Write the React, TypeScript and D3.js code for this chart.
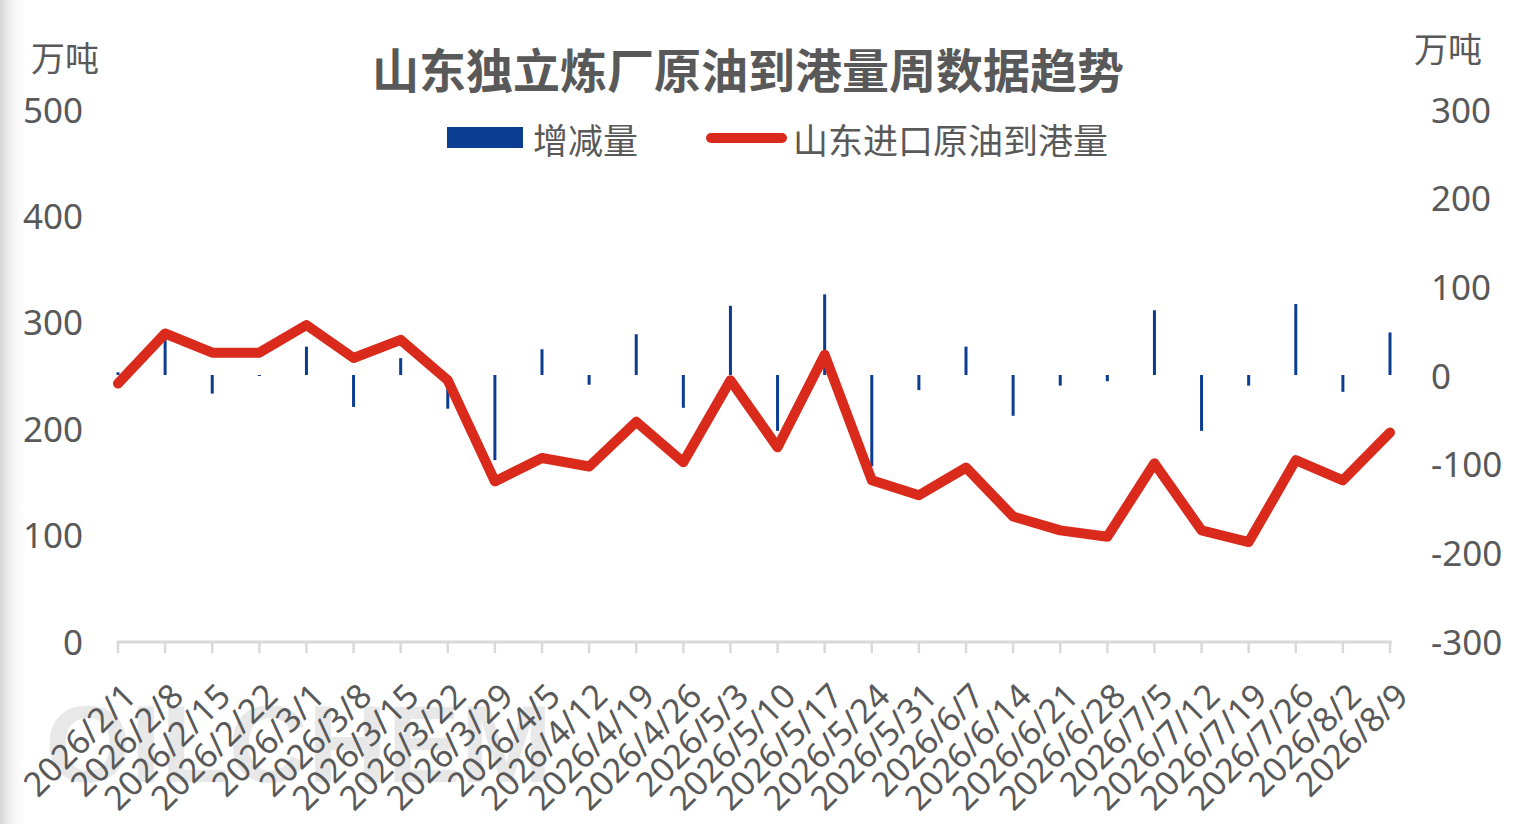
import React from "react";
import * as d3 from "d3";

const categories = [
  "2026/2/1", "2026/2/8", "2026/2/15", "2026/2/22", "2026/3/1", "2026/3/8", "2026/3/15",
  "2026/3/22", "2026/3/29", "2026/4/5", "2026/4/12", "2026/4/19", "2026/4/26", "2026/5/3",
  "2026/5/10", "2026/5/17", "2026/5/24", "2026/5/31", "2026/6/7", "2026/6/14", "2026/6/21",
  "2026/6/28", "2026/7/5", "2026/7/12", "2026/7/19", "2026/7/26", "2026/8/2", "2026/8/9",
];

// 山东进口原油到港量 (left axis, 万吨)
const arrivals = [
  242, 289, 271, 271, 297, 266, 283, 245, 150, 172, 164, 206, 168, 245,
  182, 269, 151, 137, 163, 117, 104, 98, 167, 104, 93, 170, 151, 196,
];

// 增减量 (right axis, 万吨)
const changes = [
  3, 45, -21, -1, 32, -36, 19, -38, -96, 29, -11, 46, -37, 78,
  -63, 91, -103, -17, 32, -46, -12, -7, 73, -63, -12, 80, -19, 48,
];

const leftTicks = [0, 100, 200, 300, 400, 500];
const rightTicks = [-300, -200, -100, 0, 100, 200, 300];

const title = "山东独立炼厂原油到港量周数据趋势";
const unit = "万吨";
const barName = "增减量";
const lineName = "山东进口原油到港量";

const W = 1522;
const H = 824;
const plotLeft = 118;
const plotRight = 1390;
const plotTop = 109;
const plotBottom = 641;

const textColor = "#595959";
const barColor = "#0b3d91";
const lineColor = "#da2a1c";
const axisColor = "#d9d9d9";
const numFont = "'Noto Sans', 'Noto Sans CJK SC', sans-serif";
const cjkFont = "'Noto Sans CJK SC', 'Noto Sans', sans-serif";

export default function App() {
  const x = d3.scalePoint<string>().domain(categories).range([plotLeft, plotRight]);
  const yL = d3.scaleLinear().domain([0, 500]).range([plotBottom, plotTop]);
  const yR = d3.scaleLinear().domain([-300, 300]).range([plotBottom, plotTop]);

  const line = d3
    .line<number>()
    .x((_, i) => x(categories[i]) as number)
    .y((d) => yL(d));

  const tickXs = categories.map((c) => x(c) as number);
  const barW = 3;

  return (
    <svg
      width={W}
      height={H}
      style={{ position: "absolute", left: 0, top: 0, background: "#fff" }}
    >
      <defs>
        <linearGradient id="edge" x1="0" x2="1" y1="0" y2="0">
          <stop offset="0" stopColor="#d6d6d6" />
          <stop offset="1" stopColor="#ffffff" stopOpacity="0" />
        </linearGradient>
      </defs>
      <rect x={0} y={0} width={W} height={H} fill="#fff" />
      <rect x={0} y={0} width={28} height={H} fill="url(#edge)" />

      {/* watermark */}
      <text
        x={45}
        y={782}
        fontFamily="'Liberation Sans', Arial, sans-serif"
        fontWeight="bold"
        fontSize={110}
        fill="#e8e8e8"
      >
        OILCHEM
      </text>

      {/* title */}
      <text
        x={748}
        y={67}
        textAnchor="middle"
        dominantBaseline="central"
        fontFamily={cjkFont}
        fontWeight="bold"
        fontSize={47}
        fill={textColor}
      >
        {title}
      </text>

      {/* units */}
      <text x={65} y={56} textAnchor="middle" dominantBaseline="central" fontFamily={cjkFont} fontSize={34} fill={textColor}>
        {unit}
      </text>
      <text x={1448} y={47} textAnchor="middle" dominantBaseline="central" fontFamily={cjkFont} fontSize={34} fill={textColor}>
        {unit}
      </text>

      {/* legend */}
      <rect x={447} y={127} width={76} height={21} fill={barColor} />
      <text x={533} y={138} dominantBaseline="central" fontFamily={cjkFont} fontSize={35} fill={textColor}>
        {barName}
      </text>
      <line x1={711} x2={782} y1={138} y2={138} stroke={lineColor} strokeWidth={10} strokeLinecap="round" />
      <text x={793} y={138} dominantBaseline="central" fontFamily={cjkFont} fontSize={35} fill={textColor}>
        {lineName}
      </text>

      {/* left axis labels */}
      {leftTicks.map((t) => (
        <text
          key={"l" + t}
          x={83}
          y={yL(t)}
          textAnchor="end"
          dominantBaseline="central"
          fontFamily={numFont}
          fontSize={35}
          fill={textColor}
        >
          {t}
        </text>
      ))}

      {/* right axis labels */}
      {rightTicks.map((t) => (
        <text
          key={"r" + t}
          x={1431}
          y={yR(t)}
          textAnchor="start"
          dominantBaseline="central"
          fontFamily={numFont}
          fontSize={35}
          fill={textColor}
        >
          {t}
        </text>
      ))}

      {/* category axis */}
      <line x1={plotLeft - 1} x2={plotRight + 2} y1={plotBottom + 1} y2={plotBottom + 1} stroke={axisColor} strokeWidth={3} />
      {tickXs.map((tx, i) => (
        <line key={"t" + i} x1={tx} x2={tx} y1={plotBottom} y2={plotBottom + 12} stroke={axisColor} strokeWidth={2.5} />
      ))}
      {categories.map((c, i) => (
        <text
          key={"c" + i}
          transform={`translate(${tickXs[i] + 3},${681}) rotate(-45)`}
          textAnchor="end"
          dy="0.72em"
          fontFamily={numFont}
          fontSize={34}
          fill={textColor}
        >
          {c}
        </text>
      ))}

      {/* bars */}
      {changes.map((v, i) => {
        const cx = x(categories[i]) as number;
        const y0 = yR(0);
        const y1 = yR(v);
        return (
          <rect
            key={"b" + i}
            x={cx - barW / 2}
            y={Math.min(y0, y1)}
            width={barW}
            height={Math.max(1, Math.abs(y1 - y0))}
            fill={barColor}
          />
        );
      })}

      {/* line */}
      <path d={line(arrivals) || ""} fill="none" stroke={lineColor} strokeWidth={10} strokeLinejoin="round" strokeLinecap="round" />
    </svg>
  );
}
